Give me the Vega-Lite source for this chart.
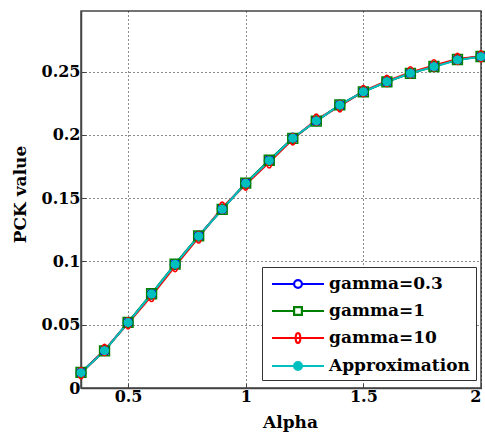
{
  "$schema": "https://vega.github.io/schema/vega-lite/v6.json",
  "width": 400,
  "height": 377,
  "autosize": {"type": "none"},
  "padding": {"left": 81, "top": 11, "right": 4, "bottom": 45},
  "background": "white",
  "config": {
    "view": {"stroke": "#444", "strokeWidth": 1.5},
    "font": "DejaVu Serif",
    "axis": {
      "labelFont": "DejaVu Serif",
      "labelFontSize": 16,
      "labelFontWeight": "bold",
      "labelColor": "black",
      "titleFont": "DejaVu Serif",
      "titleFontSize": 17,
      "titleFontWeight": "bold",
      "titleColor": "black",
      "domainColor": "#444",
      "domainWidth": 1.5,
      "tickColor": "#444",
      "tickSize": -5,
      "grid": true,
      "gridColor": "black",
      "gridDash": [1, 3],
      "gridWidth": 1,
      "gridOpacity": 0.9
    }
  },
  "data": {
    "values": [
      {"alpha": 0.3, "series": "gamma=0.3", "pck": 0.0122},
      {"alpha": 0.4, "series": "gamma=0.3", "pck": 0.0296},
      {"alpha": 0.5, "series": "gamma=0.3", "pck": 0.0518},
      {"alpha": 0.6, "series": "gamma=0.3", "pck": 0.0742},
      {"alpha": 0.7, "series": "gamma=0.3", "pck": 0.0977},
      {"alpha": 0.8, "series": "gamma=0.3", "pck": 0.1201},
      {"alpha": 0.9, "series": "gamma=0.3", "pck": 0.1415},
      {"alpha": 1.0, "series": "gamma=0.3", "pck": 0.1619},
      {"alpha": 1.1, "series": "gamma=0.3", "pck": 0.1798},
      {"alpha": 1.2, "series": "gamma=0.3", "pck": 0.1975},
      {"alpha": 1.3, "series": "gamma=0.3", "pck": 0.2112},
      {"alpha": 1.4, "series": "gamma=0.3", "pck": 0.2236},
      {"alpha": 1.5, "series": "gamma=0.3", "pck": 0.2343},
      {"alpha": 1.6, "series": "gamma=0.3", "pck": 0.2422},
      {"alpha": 1.7, "series": "gamma=0.3", "pck": 0.2489},
      {"alpha": 1.8, "series": "gamma=0.3", "pck": 0.2542},
      {"alpha": 1.9, "series": "gamma=0.3", "pck": 0.2596},
      {"alpha": 2.0, "series": "gamma=0.3", "pck": 0.2620},
      {"alpha": 0.3, "series": "gamma=1", "pck": 0.0123},
      {"alpha": 0.4, "series": "gamma=1", "pck": 0.0294},
      {"alpha": 0.5, "series": "gamma=1", "pck": 0.0519},
      {"alpha": 0.6, "series": "gamma=1", "pck": 0.0745},
      {"alpha": 0.7, "series": "gamma=1", "pck": 0.0979},
      {"alpha": 0.8, "series": "gamma=1", "pck": 0.1203},
      {"alpha": 0.9, "series": "gamma=1", "pck": 0.1412},
      {"alpha": 1.0, "series": "gamma=1", "pck": 0.1620},
      {"alpha": 1.1, "series": "gamma=1", "pck": 0.1800},
      {"alpha": 1.2, "series": "gamma=1", "pck": 0.1973},
      {"alpha": 1.3, "series": "gamma=1", "pck": 0.2110},
      {"alpha": 1.4, "series": "gamma=1", "pck": 0.2238},
      {"alpha": 1.5, "series": "gamma=1", "pck": 0.2341},
      {"alpha": 1.6, "series": "gamma=1", "pck": 0.2420},
      {"alpha": 1.7, "series": "gamma=1", "pck": 0.2487},
      {"alpha": 1.8, "series": "gamma=1", "pck": 0.2541},
      {"alpha": 1.9, "series": "gamma=1", "pck": 0.2597},
      {"alpha": 2.0, "series": "gamma=1", "pck": 0.2620},
      {"alpha": 0.3, "series": "gamma=10", "pck": 0.0117},
      {"alpha": 0.4, "series": "gamma=10", "pck": 0.0301},
      {"alpha": 0.5, "series": "gamma=10", "pck": 0.0511},
      {"alpha": 0.6, "series": "gamma=10", "pck": 0.0728},
      {"alpha": 0.7, "series": "gamma=10", "pck": 0.0964},
      {"alpha": 0.8, "series": "gamma=10", "pck": 0.1190},
      {"alpha": 0.9, "series": "gamma=10", "pck": 0.1425},
      {"alpha": 1.0, "series": "gamma=10", "pck": 0.1608},
      {"alpha": 1.1, "series": "gamma=10", "pck": 0.1784},
      {"alpha": 1.2, "series": "gamma=10", "pck": 0.1966},
      {"alpha": 1.3, "series": "gamma=10", "pck": 0.2121},
      {"alpha": 1.4, "series": "gamma=10", "pck": 0.2227},
      {"alpha": 1.5, "series": "gamma=10", "pck": 0.2347},
      {"alpha": 1.6, "series": "gamma=10", "pck": 0.2427},
      {"alpha": 1.7, "series": "gamma=10", "pck": 0.2495},
      {"alpha": 1.8, "series": "gamma=10", "pck": 0.2550},
      {"alpha": 1.9, "series": "gamma=10", "pck": 0.2601},
      {"alpha": 2.0, "series": "gamma=10", "pck": 0.2622},
      {"alpha": 0.3, "series": "Approximation", "pck": 0.0121},
      {"alpha": 0.4, "series": "Approximation", "pck": 0.0295},
      {"alpha": 0.5, "series": "Approximation", "pck": 0.0517},
      {"alpha": 0.6, "series": "Approximation", "pck": 0.0743},
      {"alpha": 0.7, "series": "Approximation", "pck": 0.0978},
      {"alpha": 0.8, "series": "Approximation", "pck": 0.1200},
      {"alpha": 0.9, "series": "Approximation", "pck": 0.1413},
      {"alpha": 1.0, "series": "Approximation", "pck": 0.1618},
      {"alpha": 1.1, "series": "Approximation", "pck": 0.1797},
      {"alpha": 1.2, "series": "Approximation", "pck": 0.1974},
      {"alpha": 1.3, "series": "Approximation", "pck": 0.2111},
      {"alpha": 1.4, "series": "Approximation", "pck": 0.2237},
      {"alpha": 1.5, "series": "Approximation", "pck": 0.2342},
      {"alpha": 1.6, "series": "Approximation", "pck": 0.2421},
      {"alpha": 1.7, "series": "Approximation", "pck": 0.2488},
      {"alpha": 1.8, "series": "Approximation", "pck": 0.2540},
      {"alpha": 1.9, "series": "Approximation", "pck": 0.2593},
      {"alpha": 2.0, "series": "Approximation", "pck": 0.2619}
    ]
  },
  "encoding": {
    "x": {
      "field": "alpha",
      "type": "quantitative",
      "scale": {"domain": [0.3, 2], "nice": false, "zero": false},
      "axis": {
        "title": "Alpha",
        "values": [0.5, 1, 1.5, 2],
        "format": "~g",
        "labelPadding": 5,
        "titleX": 209,
        "titleY": 39,
        "titleBaseline": "alphabetic",
        "titleAnchor": null
      }
    },
    "y": {
      "field": "pck",
      "type": "quantitative",
      "scale": {"domain": [0, 0.298], "nice": false},
      "axis": {
        "title": "PCK value",
        "values": [0, 0.05, 0.1, 0.15, 0.2, 0.25],
        "format": "~g",
        "labelPadding": 6,
        "titleX": -56,
        "titleY": 183,
        "titleBaseline": "alphabetic",
        "titleAnchor": null
      }
    }
  },
  "layer": [
    {
      "mark": {"type": "line", "strokeWidth": 2},
      "encoding": {
        "color": {
          "field": "series",
          "type": "nominal",
          "scale": {
            "domain": ["gamma=0.3", "gamma=1", "gamma=10", "Approximation"],
            "range": ["#0000FF", "#008000", "#FF0000", "#00BFBF"]
          },
          "legend": {
            "title": null,
            "orient": "none",
            "legendX": 181,
            "legendY": 256,
            "padding": 6,
            "rowPadding": 8,
            "symbolSize": 400,
            "symbolOffset": 19,
            "labelOffset": 20,
            "symbolStrokeWidth": 2,
            "symbolOpacity": 1,
            "labelFont": "DejaVu Serif",
            "labelFontSize": 17,
            "labelFontWeight": "bold",
            "labelColor": "black",
            "strokeColor": "#333",
            "fillColor": "white"
          }
        }
      }
    },
    {
      "mark": {"type": "point", "filled": false, "strokeWidth": 2, "size": 400, "opacity": 0},
      "encoding": {
        "color": {"field": "series", "type": "nominal", "legend": null},
        "shape": {
          "field": "series",
          "type": "nominal",
          "scale": {
            "domain": ["gamma=0.3", "gamma=1", "gamma=10", "Approximation"],
            "range": [
              "M-2.6,0H-0.4M0.4,0H2.6M0.4,0A0.4,0.4 0 1,1 -0.4,0A0.4,0.4 0 1,1 0.4,0ZM0.38,0A0.38,0.38 0 1,0 -0.38,0A0.38,0.38 0 1,0 0.38,0Z",
              "M-2.6,0H-0.4M0.4,0H2.6M-0.4,-0.4H0.4V0.4H-0.4ZM-0.38,-0.38V0.38H0.38V-0.38Z",
              "M-2.6,0H2.6M0,-0.5A0.24,0.5 0 1,1 0,0.5A0.24,0.5 0 1,1 0,-0.5ZM0,-0.48A0.22,0.48 0 1,0 0,0.48A0.22,0.48 0 1,0 0,-0.48Z",
              "M-2.6,0H2.6M0.4,0A0.4,0.4 0 1,1 -0.4,0A0.4,0.4 0 1,1 0.4,0Z"
            ]
          },
          "legend": null
        },
        "fill": {
          "field": "series",
          "type": "nominal",
          "scale": {
            "domain": ["gamma=0.3", "gamma=1", "gamma=10", "Approximation"],
            "range": ["transparent", "transparent", "transparent", "#00BFBF"]
          },
          "legend": null
        }
      }
    },
    {
      "transform": [{"filter": "datum.series === 'gamma=0.3'"}],
      "mark": {"type": "point", "shape": "circle", "filled": false, "strokeWidth": 1.6, "size": 90, "opacity": 1},
      "encoding": {"color": {"field": "series", "type": "nominal", "legend": null}}
    },
    {
      "transform": [{"filter": "datum.series === 'gamma=1'"}],
      "mark": {"type": "point", "shape": "square", "filled": false, "strokeWidth": 1.6, "size": 95, "opacity": 1},
      "encoding": {"color": {"field": "series", "type": "nominal", "legend": null}}
    },
    {
      "transform": [{"filter": "datum.series === 'gamma=10'"}],
      "mark": {"type": "point", "shape": "M0,-1.25A0.55,1.25 0 1,1 0,1.25A0.55,1.25 0 1,1 0,-1.25Z", "filled": false, "strokeWidth": 1.6, "size": 80, "opacity": 1},
      "encoding": {"color": {"field": "series", "type": "nominal", "legend": null}}
    },
    {
      "transform": [{"filter": "datum.series === 'Approximation'"}],
      "mark": {"type": "point", "shape": "circle", "filled": true, "size": 80, "opacity": 1},
      "encoding": {"color": {"field": "series", "type": "nominal", "legend": null}}
    }
  ]
}
